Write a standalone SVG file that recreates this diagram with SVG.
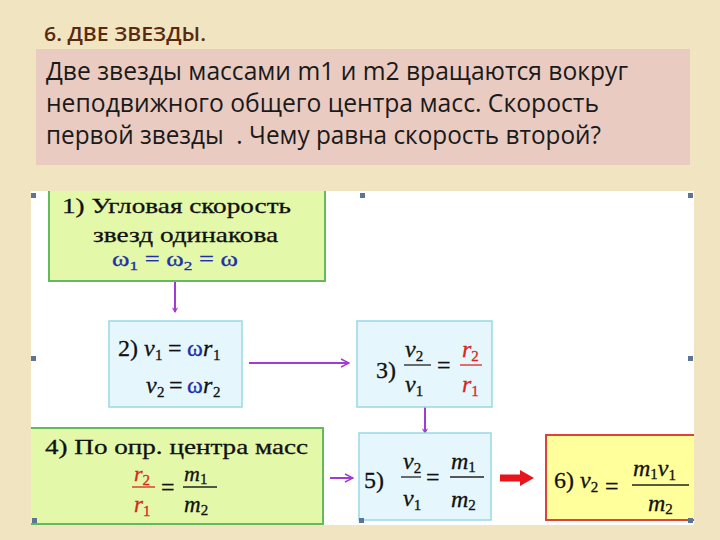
<svg xmlns="http://www.w3.org/2000/svg" width="720" height="540" viewBox="0 0 720 540">
<style>
.hdr{font-family:"Open Sans","Noto Sans","DejaVu Sans",sans-serif;}
.ser{font-family:"Liberation Serif","DejaVu Serif",serif;fill:#111;stroke:#111;stroke-width:0.3;}
.it{font-style:italic;}
.sub{font-size:15px;font-style:normal;}
.blue{fill:#1f2fa8;stroke:#1f2fa8;}
.red{fill:#d8261e;stroke:#d8261e;}
.green{fill:#e3f8a8;}
.gline{stroke:#64b95a;stroke-width:2;fill:none;}
.cyan{fill:#e5f7fc;stroke:#98d9e6;stroke-width:1.5;}
.yel{fill:#ffff9c;}
.yline{stroke:#e2403a;stroke-width:2;fill:none;}
.bar{stroke:#222;stroke-width:1.3;}
.rbar{stroke:#d8261e;stroke-width:1.3;}
.arr{stroke:#a23bd4;stroke-width:2;fill:none;}
.handle{fill:#5d7595;}
</style>
<defs>
<marker id="ah" viewBox="0 0 10 10" refX="9" refY="5" markerWidth="6" markerHeight="6" orient="auto" markerUnits="userSpaceOnUse">
<path d="M2,1 L9,5 L2,9" fill="none" stroke="#a23bd4" stroke-width="1.8"/>
</marker>
<marker id="ah2" viewBox="0 0 10 10" refX="9" refY="5" markerWidth="10" markerHeight="10" orient="auto" markerUnits="userSpaceOnUse">
<path d="M1,1 L9,5 L1,9" fill="none" stroke="#a23bd4" stroke-width="1.4"/>
</marker>
</defs>

<rect x="0" y="0" width="720" height="540" fill="#f1e4c1"/>

<g id="title">
<text class="hdr" x="44" y="41" font-size="20" font-weight="600" fill="#5a2a10" textLength="162" lengthAdjust="spacingAndGlyphs">6. ДВЕ ЗВЕЗДЫ.</text>
</g>

<g id="problem">
<rect x="36" y="49" width="654" height="116" fill="#e9cbc1"/>
<text class="hdr" font-size="25" fill="#1a1a1a">
<tspan x="46" y="80" textLength="582" lengthAdjust="spacingAndGlyphs">Две звезды массами m1 и m2 вращаются вокруг</tspan>
<tspan x="46" y="112" textLength="553" lengthAdjust="spacingAndGlyphs">неподвижного общего центра масс. Скорость</tspan>
<tspan x="46" y="144" textLength="555" lengthAdjust="spacingAndGlyphs" xml:space="preserve">первой звезды  . Чему равна скорость второй?</tspan>
</text>
</g>

<rect x="31" y="191" width="663" height="334" fill="#ffffff"/>

<g id="connectors">
<line class="arr" x1="175" y1="282" x2="175" y2="312" marker-end="url(#ah)"/>
<line class="arr" x1="249" y1="363" x2="349" y2="363" marker-end="url(#ah2)"/>
<line class="arr" x1="425" y1="407" x2="425" y2="433" marker-end="url(#ah)"/>
<line class="arr" x1="330" y1="478" x2="353" y2="478" marker-end="url(#ah2)"/>
<path d="M500,474.5 H520 V470 L534,478 L520,486 V481.5 H500 Z" fill="#e8141c"/>
</g>

<g id="node1">
<rect class="green" x="49" y="191" width="276" height="90"/>
<path class="gline" d="M49,191 V281 H325 V191"/>
<text class="ser" x="62" y="213" font-size="22" textLength="229" lengthAdjust="spacingAndGlyphs">1) Угловая скорость</text>
<text class="ser" x="93" y="242" font-size="22" textLength="185" lengthAdjust="spacingAndGlyphs">звезд одинакова</text>
<text class="ser blue" x="112" y="266" font-size="20" textLength="126" lengthAdjust="spacingAndGlyphs">ω<tspan font-size="13" dy="4">1</tspan><tspan dy="-4"> = ω</tspan><tspan font-size="13" dy="4">2</tspan><tspan dy="-4"> = ω</tspan></text>
</g>

<g id="node2">
<rect class="cyan" x="109" y="321" width="133" height="86"/>
<text class="ser" y="356" font-size="24"><tspan x="118">2)</tspan><tspan x="144" class="it">v</tspan><tspan x="155" y="360" class="sub">1</tspan><tspan x="168" y="356">=</tspan><tspan x="187" class="blue">ω</tspan><tspan x="203" class="it">r</tspan><tspan x="213" y="360" class="sub">1</tspan></text>
<text class="ser" y="393" font-size="24"><tspan x="146" class="it">v</tspan><tspan x="157" y="397" class="sub">2</tspan><tspan x="169" y="393">=</tspan><tspan x="187" class="blue">ω</tspan><tspan x="203" class="it">r</tspan><tspan x="213" y="397" class="sub">2</tspan></text>
</g>

<g id="node3">
<rect class="cyan" x="357" y="321" width="135" height="86"/>
<text class="ser" x="376" y="378" font-size="24">3)</text>
<text class="ser it" x="405" y="357" font-size="24">v<tspan class="sub" dy="4">2</tspan></text>
<line class="bar" x1="404" y1="365" x2="431" y2="365"/>
<text class="ser it" x="405" y="392" font-size="24">v<tspan class="sub" dy="4">1</tspan></text>
<text class="ser" x="437" y="373" font-size="24">=</text>
<text class="ser it red" x="462" y="357" font-size="24">r<tspan class="sub" dy="4">2</tspan></text>
<line class="rbar" x1="460" y1="365" x2="482" y2="365"/>
<text class="ser it red" x="462" y="392" font-size="24">r<tspan class="sub" dy="4">1</tspan></text>
</g>

<g id="node4">
<rect class="green" x="31" y="428" width="292" height="97"/>
<path class="gline" d="M31,428 H323 V524 H31"/>
<text class="ser" x="45" y="454" font-size="22" textLength="263" lengthAdjust="spacingAndGlyphs">4) По опр. центра масс</text>
<text class="ser it red" x="134" y="481" font-size="22">r<tspan class="sub" dy="4">2</tspan></text>
<line class="rbar" x1="132" y1="487" x2="155" y2="487"/>
<text class="ser it red" x="134" y="512" font-size="23">r<tspan class="sub" dy="4">1</tspan></text>
<text class="ser" x="161" y="495" font-size="24">=</text>
<text class="ser it" x="184" y="481" font-size="22">m<tspan class="sub" dy="3">1</tspan></text>
<line class="bar" x1="183" y1="487" x2="217" y2="487"/>
<text class="ser it" x="184" y="512" font-size="23">m<tspan class="sub" dy="3">2</tspan></text>
</g>

<g id="node5">
<rect class="cyan" x="359" y="433" width="132" height="87"/>
<text class="ser" x="364" y="488" font-size="24">5)</text>
<text class="ser it" x="403" y="469" font-size="24">v<tspan class="sub" dy="4">2</tspan></text>
<line class="bar" x1="401" y1="477" x2="421" y2="477"/>
<text class="ser it" x="403" y="506" font-size="24">v<tspan class="sub" dy="4">1</tspan></text>
<text class="ser" x="426" y="485" font-size="24">=</text>
<text class="ser it" x="451" y="469" font-size="24">m<tspan class="sub" dy="3">1</tspan></text>
<line class="bar" x1="450" y1="477" x2="484" y2="477"/>
<text class="ser it" x="451" y="507" font-size="24">m<tspan class="sub" dy="3">2</tspan></text>
</g>

<g id="node6">
<rect class="yel" x="546" y="435" width="148" height="85"/>
<path class="yline" d="M694,435 H546 V520 H694"/>
<text class="ser" x="554" y="488" font-size="24">6)</text>
<text class="ser it" x="580" y="488" font-size="24">v<tspan class="sub" dy="4">2</tspan></text>
<text class="ser" x="605" y="494" font-size="24">=</text>
<text class="ser it" x="633" y="476" font-size="24">m<tspan class="sub" dy="3">1</tspan><tspan dy="-3">v</tspan><tspan class="sub" dy="4">1</tspan></text>
<line class="bar" x1="632" y1="485" x2="689" y2="485"/>
<text class="ser it" x="648" y="511" font-size="24">m<tspan class="sub" dy="3">2</tspan></text>
</g>

<g id="handles">
<rect class="handle" x="31" y="193" width="5" height="5"/>
<rect class="handle" x="360" y="193" width="5" height="5"/>
<rect class="handle" x="688" y="193" width="5" height="5"/>
<rect class="handle" x="31" y="356" width="5" height="5"/>
<rect class="handle" x="688" y="356" width="5" height="5"/>
<rect class="handle" x="32" y="518" width="5" height="5"/>
<rect class="handle" x="359" y="518" width="5" height="5"/>
<rect class="handle" x="688" y="518" width="5" height="5"/>
</g>
</svg>
